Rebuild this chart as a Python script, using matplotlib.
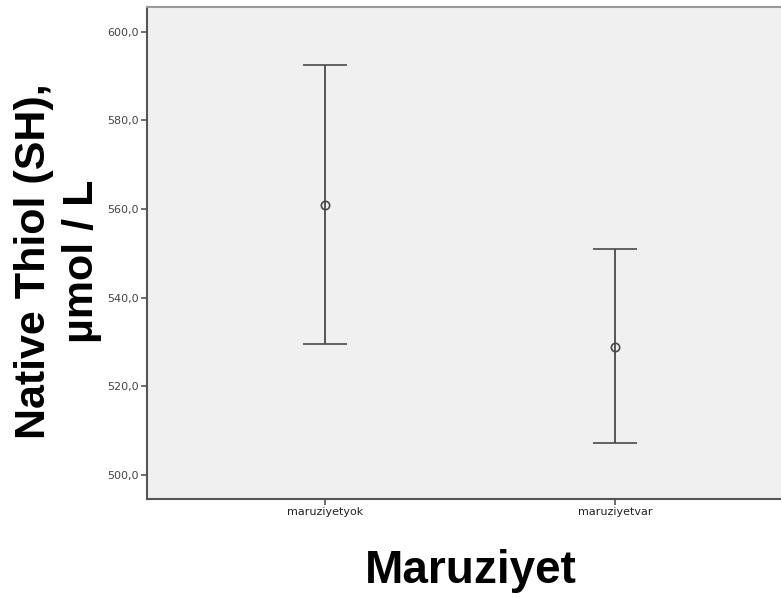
import matplotlib.pyplot as plt

# Group labels and error bar values (mean, lower and upper limits)
groups = ['maruziyetyok', 'maruziyetvar']
means = [561.0, 529.0]
lower = [529.6, 507.2]
upper = [592.5, 551.0]
yticks = [500, 520, 540, 560, 580, 600]

plt.rcParams['font.family'] = ['Liberation Sans', 'DejaVu Sans']

fig = plt.figure(figsize=(7.81, 5.98), dpi=100)
ax = fig.add_axes([0.1882, 0.1656, 0.8118, 0.8227])
ax.set_facecolor('#f0f0f0')

xs = list(range(1, len(groups) + 1))
err_low = [m - l for m, l in zip(means, lower)]
err_high = [u - m for m, u in zip(means, upper)]
ax.errorbar(xs, means, yerr=[err_low, err_high], fmt='o', color='#4a4a4a',
            mfc='none', mec='#4a4a4a', ms=6, mew=1.2, elinewidth=1.3,
            capsize=16, capthick=1.3)

ax.set_xlim(0.386, 2.572)
ax.set_ylim(494.6, 605.6)
ax.set_xticks(xs)
ax.set_xticklabels(groups, fontsize=8, color='#222222', family='DejaVu Sans')
ax.set_yticks(yticks)
ax.set_yticklabels([f'{v:.1f}'.replace('.', ',') for v in yticks],
                   fontsize=8, color='#444444', family='DejaVu Sans')
ax.tick_params(axis='both', length=4, width=1.2, color='#555555', pad=2)

for side in ['left', 'bottom']:
    ax.spines[side].set_color('#555555')
    ax.spines[side].set_linewidth(1.5)
ax.spines['top'].set_color('#999999')
ax.spines['top'].set_linewidth(1.5)
ax.spines['right'].set_visible(False)

fig.text(58 / 781, 0.563, 'Native Thiol (SH),\nµmol / L', rotation=90,
         ha='center', va='center', multialignment='center',
         fontsize=31, fontweight='bold', linespacing=1.25)
fig.text(0.603, 0.025, 'Maruziyet', ha='center', va='baseline',
         fontsize=33, fontweight='bold')

fig.savefig('out.png', dpi=100)
